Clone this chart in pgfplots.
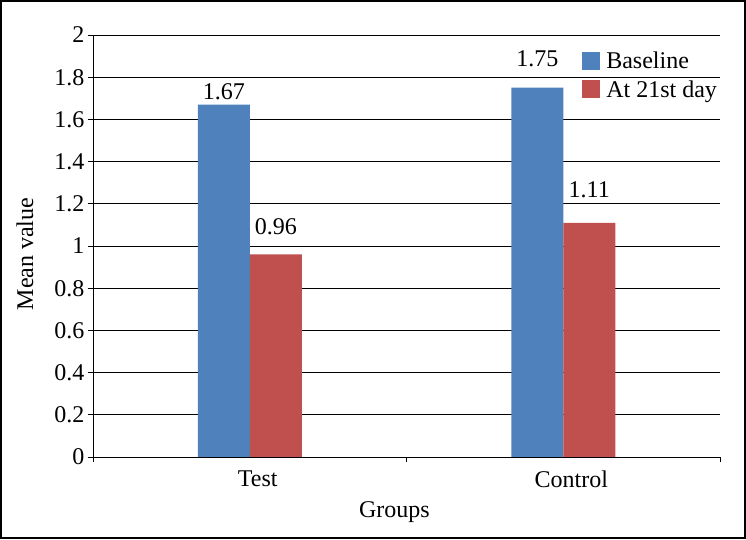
\documentclass[border=0pt]{standalone}
\usepackage{fontspec}
\setmainfont{Liberation Serif}
\usepackage{pgfplots}
\usepackage{pgfplotstable}
\pgfplotsset{compat=1.18}
\definecolor{barblue}{HTML}{4F81BD}
\definecolor{barred}{HTML}{C0504D}
\pgfplotsset{/pgf/number format/assume math mode=true}
\pgfplotstableread{
x y s
0 1.67 5
1 1.75 21
}\baseline
\pgfplotstableread{
x y s
0 0.96 19
1 1.11 25
}\dayone
\begin{document}
\begin{tikzpicture}
\path[use as bounding box] (0,0) rectangle (746bp,540bp);
\fill[white] (0,0) rectangle (746bp,540bp);
\begin{axis}[
  at={(93bp,83bp)}, anchor=south west,
  width=627bp, height=422bp, scale only axis,
  font=\fontsize{24bp}{28bp}\selectfont,
  ybar=0pt, bar width=52bp,
  xmin=-0.5, xmax=1.5, ymin=0, ymax=2,
  xtick={-0.5,0.5,1.5}, xticklabels={},
  extra x ticks={0,1}, extra x tick labels={Test,Control},
  extra x tick style={major tick length=0pt, xticklabel style={xshift=8bp}},
  ytick={0,0.2,0.4,0.6,0.8,1,1.2,1.4,1.6,1.8,2},
  yticklabel style={/pgf/number format/fixed, /pgf/number format/precision=1, inner sep=0pt, xshift=-3bp},
  xticklabel style={inner sep=0pt, yshift=-14bp},
  axis x line*=bottom, axis y line*=left,
  axis line style={black, line width=0.8bp},
  ymajorgrids, grid style={black, line width=0.7bp},
  tick align=outside, major tick length=5.5bp,
  tick style={black, line width=0.8bp},
  xlabel={Groups}, ylabel={Mean value},
  xlabel style={at={(axis description cs:0.5,0)}, anchor=center, yshift=-55bp, xshift=-12bp},
  ylabel style={at={(axis description cs:-0.1085,0.481)}, anchor=center},
  legend style={draw=none, fill=none, at={(rel axis cs:0.78,0.962)}, anchor=north west,
    inner sep=0pt, row sep=8bp, column sep=5bp, nodes={inner sep=1bp}, font=\fontsize{24bp}{28bp}\selectfont},
  legend image code/.code={\fill[#1] (0bp,-9bp) rectangle (18bp,9bp);},
  legend cell align=left,
]
\addplot[fill=barblue, draw=none, nodes near coords,
  visualization depends on={\thisrow{s} \as \myshift},
  every node near coord/.append style={anchor=south, inner sep=0pt, yshift=\myshift bp, black}]
  table[x=x, y=y] {\baseline};
\addplot[fill=barred, draw=none, nodes near coords,
  visualization depends on={\thisrow{s} \as \myshift},
  every node near coord/.append style={anchor=south, inner sep=0pt, yshift=\myshift bp, black}]
  table[x=x, y=y] {\dayone};
\legend{Baseline, At 21st day}
\end{axis}
\draw[black, line width=2bp] (1bp,2bp) rectangle (744.5bp,539bp);
\end{tikzpicture}
\end{document}
